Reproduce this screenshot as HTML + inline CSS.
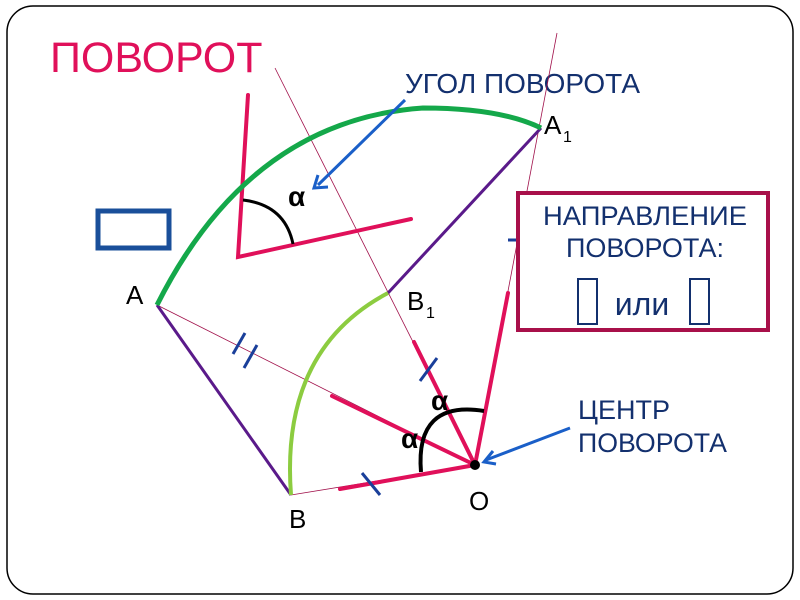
<!DOCTYPE html>
<html><head><meta charset="utf-8"><style>
body{margin:0;background:#fff;width:800px;height:600px;overflow:hidden}
svg{display:block}
text{font-family:"Liberation Sans","DejaVu Sans",sans-serif}
</style></head><body>
<svg width="800" height="600" viewBox="0 0 800 600">
<rect x="7" y="6" width="786" height="588" rx="26" fill="#fff" stroke="#000" stroke-width="1.5"/>
<text x="50" y="72" font-size="43" fill="#e0105a">ПОВОРОТ</text>
<text x="405" y="93" font-size="28" fill="#13306e" textLength="235" lengthAdjust="spacingAndGlyphs">УГОЛ ПОВОРОТА</text>
<text x="578" y="419" font-size="27" fill="#13306e">ЦЕНТР</text>
<text x="578" y="452" font-size="27" fill="#13306e" textLength="149" lengthAdjust="spacingAndGlyphs">ПОВОРОТА</text>
<g stroke="#a0104a" stroke-width="0.8" fill="none">
<line x1="275" y1="68" x2="475" y2="465"/>
<line x1="557" y1="33" x2="475" y2="465"/>
<line x1="157" y1="305" x2="475" y2="465"/>
<line x1="291" y1="495" x2="475" y2="465"/>
</g>
<g stroke="#e0105a" stroke-width="4" stroke-linecap="round" fill="none">
<line x1="508" y1="293" x2="475" y2="465"/>
<line x1="414" y1="342" x2="475" y2="465"/>
<line x1="332" y1="396" x2="475" y2="465"/>
<line x1="340" y1="489" x2="475" y2="465"/>
<polyline points="248,95 238,257 411,219"/>
</g>
<g stroke="#5a1a8a" stroke-width="3" fill="none">
<line x1="157" y1="305" x2="291" y2="495"/>
<line x1="388" y1="293" x2="541" y2="128"/>
</g>
<path d="M157,305 Q250,120 423,108 Q500,108 541,128" stroke="#14a84a" stroke-width="5" fill="none"/>
<path d="M291,495 Q280,350 388,293" stroke="#8ccc40" stroke-width="4" fill="none"/>
<path d="M243,200 Q285,205 293,244" stroke="#000" stroke-width="3" fill="none"/>
<path d="M421,472 Q415,400 484,411" stroke="#000" stroke-width="4" fill="none"/>
<circle cx="475" cy="465" r="5" fill="#000"/>
<text x="288" y="206" font-size="28" font-weight="bold" fill="#000">α</text>
<text x="431" y="410" font-size="28" font-weight="bold" fill="#000">α</text>
<text x="401" y="448" font-size="28" font-weight="bold" fill="#000">α</text>
<g stroke="#1a3f9a" stroke-width="3">
<line x1="233" y1="354" x2="245" y2="333"/>
<line x1="244" y1="368" x2="257" y2="345"/>
<line x1="420" y1="381" x2="437" y2="358"/>
<line x1="362" y1="473" x2="380" y2="495"/>
<line x1="508" y1="240" x2="520" y2="240"/>
</g>
<g stroke="#1a5fc8" stroke-width="3" fill="none">
<line x1="405" y1="100" x2="318" y2="185"/>
<polyline points="318,175 314,188 328,187"/>
<line x1="570" y1="428" x2="486" y2="460"/>
<polyline points="493,451 484,462 496,464"/>
</g>
<rect x="98" y="211" width="71" height="37" fill="none" stroke="#1a4f9a" stroke-width="5"/>
<text x="126" y="304" font-size="26" fill="#000">A</text>
<text x="544" y="134" font-size="26" fill="#000">A</text><text x="563" y="142" font-size="16">1</text>
<text x="407" y="310" font-size="26" fill="#000">B</text><text x="426" y="318" font-size="16">1</text>
<text x="289" y="528" font-size="26" fill="#000">B</text>
<text x="469" y="510" font-size="26" fill="#000">O</text>
<rect x="518" y="193" width="250" height="137" fill="#fff" stroke="#a8104a" stroke-width="4"/>
<text x="645" y="225" font-size="27" fill="#13306e" text-anchor="middle" textLength="204" lengthAdjust="spacingAndGlyphs">НАПРАВЛЕНИЕ</text>
<text x="645" y="257" font-size="27" fill="#13306e" text-anchor="middle">ПОВОРОТА:</text>
<rect x="578" y="279" width="19" height="45" fill="none" stroke="#13306e" stroke-width="2"/>
<text x="642" y="315" font-size="32" fill="#13306e" text-anchor="middle">или</text>
<rect x="690" y="279" width="19" height="45" fill="none" stroke="#13306e" stroke-width="2"/>
</svg>
</body></html>
